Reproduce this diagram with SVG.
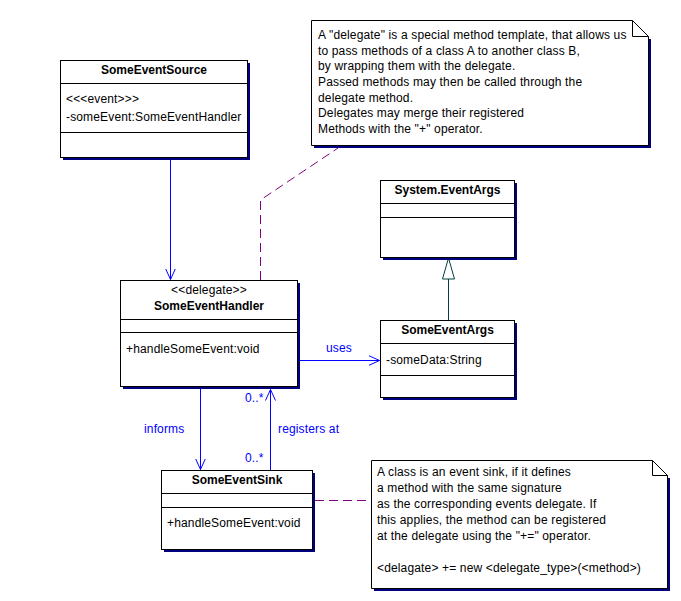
<svg xmlns="http://www.w3.org/2000/svg" width="681" height="601" viewBox="0 0 681 601">
<style>
text{font-family:"Liberation Sans",Arial,sans-serif;font-size:12px;fill:#000;letter-spacing:0.15px}
.t{font-weight:bold;text-anchor:middle;letter-spacing:0}
.c{text-anchor:middle}
.box{fill:#fff;stroke:#000;stroke-width:1}
.sh{fill:#000080}
.div{stroke:#000;stroke-width:1}
.lbl{fill:#0000ff}
.con{stroke:#0000ff;stroke-width:1;fill:none}
.dash{stroke:#800080;stroke-width:1;fill:none;stroke-dasharray:9 5}
</style>
<defs>
<marker id="open" markerWidth="14" markerHeight="12" refX="11" refY="5.5" orient="auto" markerUnits="userSpaceOnUse">
<path d="M0,0.5 L11,5.5 L0,10.5" fill="none" stroke="#0000ff" stroke-width="1"/>
</marker>
</defs>
<rect width="681" height="601" fill="#fff"/>

<g id="connectors">
<line class="con" x1="170.5" y1="157" x2="170.5" y2="279.5" marker-end="url(#open)"/>
<line class="con" x1="300" y1="360.5" x2="379.5" y2="360.5" marker-end="url(#open)"/>
<line class="con" x1="200.5" y1="389" x2="200.5" y2="469.5" marker-end="url(#open)"/>
<line class="con" x1="270.5" y1="470" x2="270.5" y2="389.5" marker-end="url(#open)"/>
<path d="M448.5,320 V270" stroke="#004040" fill="none"/>
<path d="M448.5,258 L454.5,279 H442.5 Z" fill="#fff" stroke="#004040"/>
<path class="dash" d="M260.5,280 V200 L338,148"/>
<path class="dash" d="M315,500.5 H371"/>
<text class="lbl" x="326" y="352">uses</text>
<text class="lbl" x="144" y="433">informs</text>
<text class="lbl" x="278" y="433">registers at</text>
<text class="lbl" x="245" y="402">0..*</text>
<text class="lbl" x="245" y="462">0..*</text>
</g>

<g id="SomeEventSource">
<rect class="sh" x="63" y="63" width="187" height="97"/>
<rect class="box" x="60.5" y="60.5" width="187" height="97"/>
<line class="div" x1="60.5" y1="83.5" x2="247.5" y2="83.5"/>
<line class="div" x1="60.5" y1="132.5" x2="247.5" y2="132.5"/>
<text class="t" x="154" y="74">SomeEventSource</text>
<text x="66" y="103">&lt;&lt;&lt;event&gt;&gt;&gt;</text>
<text x="66" y="121">-someEvent:SomeEventHandler</text>
</g>

<g id="SomeEventHandler">
<rect class="sh" x="123" y="283" width="177" height="106"/>
<rect class="box" x="120.5" y="280.5" width="177" height="106"/>
<line class="div" x1="120.5" y1="319.5" x2="297.5" y2="319.5"/>
<line class="div" x1="120.5" y1="332.5" x2="297.5" y2="332.5"/>
<text class="c" x="209" y="294">&lt;&lt;delegate&gt;&gt;</text>
<text class="t" x="209" y="310">SomeEventHandler</text>
<text x="126" y="353">+handleSomeEvent:void</text>
</g>

<g id="SystemEventArgs">
<rect class="sh" x="383" y="183" width="134" height="77"/>
<rect class="box" x="380.5" y="180.5" width="134" height="77"/>
<line class="div" x1="380.5" y1="203.5" x2="514.5" y2="203.5"/>
<line class="div" x1="380.5" y1="217.5" x2="514.5" y2="217.5"/>
<text class="t" x="447.5" y="194">System.EventArgs</text>
</g>

<g id="SomeEventArgs">
<rect class="sh" x="383" y="323" width="134" height="77"/>
<rect class="box" x="380.5" y="320.5" width="134" height="77"/>
<line class="div" x1="380.5" y1="343.5" x2="514.5" y2="343.5"/>
<line class="div" x1="380.5" y1="375.5" x2="514.5" y2="375.5"/>
<text class="t" x="447.5" y="334">SomeEventArgs</text>
<text x="386" y="364">-someData:String</text>
</g>

<g id="SomeEventSink">
<rect class="sh" x="164" y="473" width="151" height="79"/>
<rect class="box" x="161.5" y="470.5" width="151" height="79"/>
<line class="div" x1="161.5" y1="493.5" x2="312.5" y2="493.5"/>
<line class="div" x1="161.5" y1="507.5" x2="312.5" y2="507.5"/>
<text class="t" x="237" y="484">SomeEventSink</text>
<text x="167" y="527">+handleSomeEvent:void</text>
</g>

<g id="note1">
<path class="sh" d="M314,148 V39 H651 V148 Z"/>
<path class="box" d="M311.5,20.5 H632.5 L648.5,36.5 V145.5 H311.5 Z"/>
<path d="M632.5,20.5 V36.5 H648.5" fill="none" stroke="#000"/>
<text x="318" y="39">A "delegate" is a special method template, that allows us</text>
<text x="318" y="54.7">to pass methods of a class A to another class B,</text>
<text x="318" y="70.3">by wrapping them with the delegate.</text>
<text x="318" y="86">Passed methods may then be called through the</text>
<text x="318" y="101.7">delegate method.</text>
<text x="318" y="117.3">Delegates may merge their registered</text>
<text x="318" y="133">Methods with the "+" operator.</text>
</g>

<g id="note2">
<path class="sh" d="M374,591 V478 H670 V591 Z"/>
<path class="box" d="M371.5,460.5 H652.5 L667.5,475.5 V588.5 H371.5 Z"/>
<path d="M652.5,460.5 V475.5 H667.5" fill="none" stroke="#000"/>
<text x="377" y="476">A class is an event sink, if it defines</text>
<text x="377" y="492">a method with the same signature</text>
<text x="377" y="508">as the corresponding events delegate. If</text>
<text x="377" y="523.5">this applies, the method can be registered</text>
<text x="377" y="539.5">at the delegate using the "+=" operator.</text>
<text x="377" y="571.5">&lt;delagate&gt; += new &lt;delegate_type&gt;(&lt;method&gt;)</text>
</g>
</svg>
